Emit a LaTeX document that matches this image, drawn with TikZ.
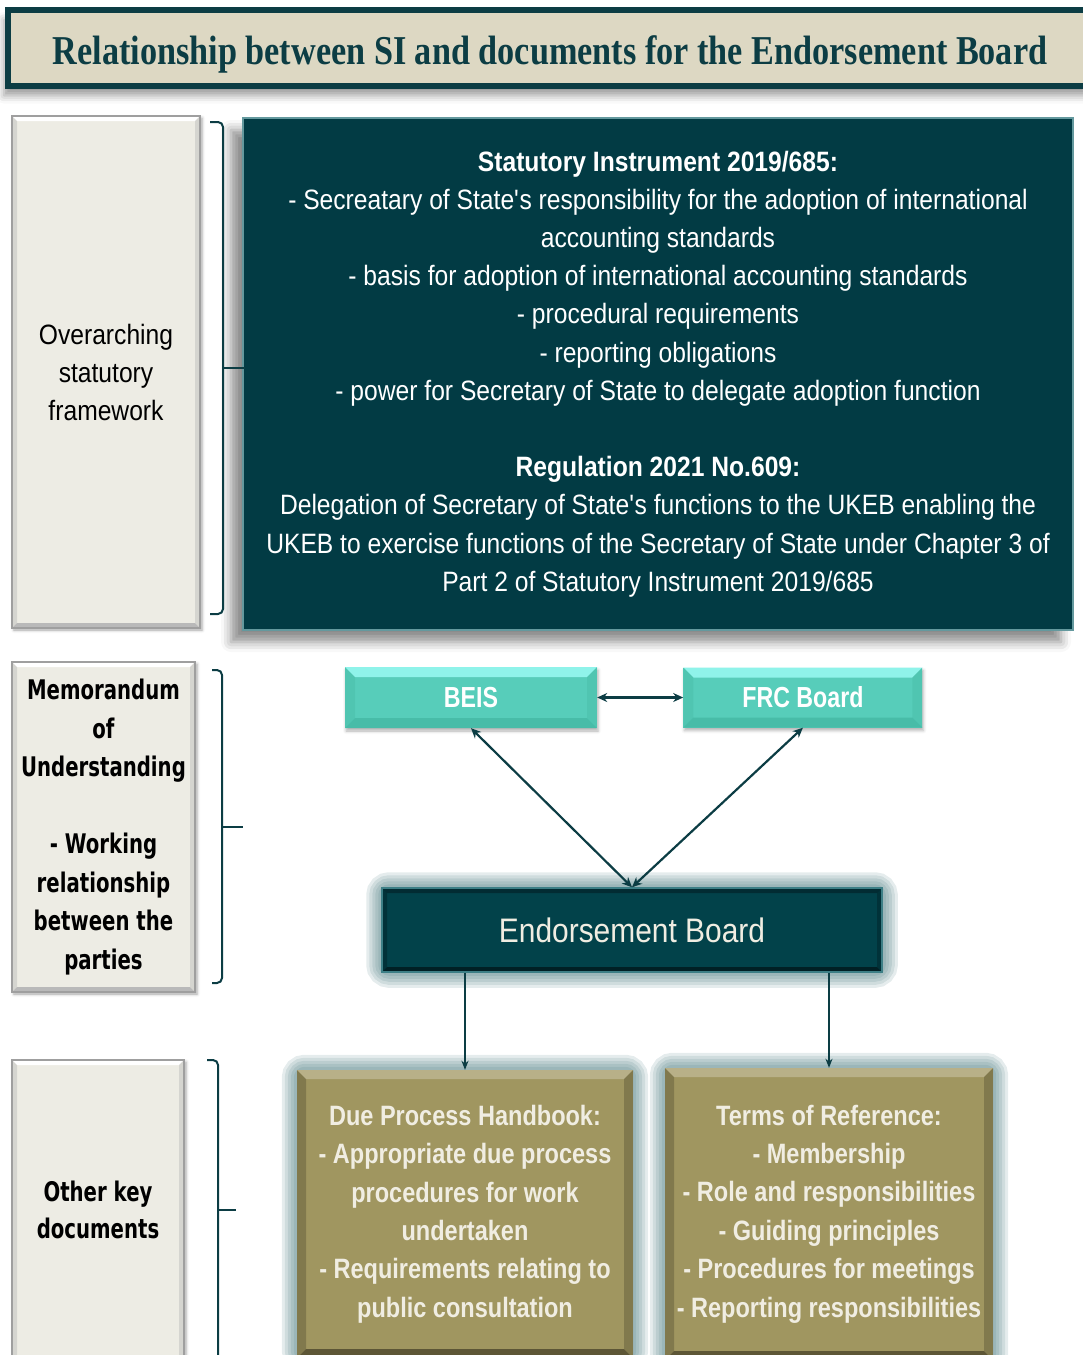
\documentclass[tikz,border=0pt]{standalone}
\usepackage{fontspec}
\setmainfont[FakeStretch=0.88]{Liberation Sans}
\newfontfamily\narrowfont[FakeStretch=0.8]{Liberation Sans}
\newfontfamily\docfont[FakeStretch=0.84]{Liberation Sans}
\newfontfamily\titlefont[FakeStretch=0.835]{Liberation Serif}
\newfontfamily\memofont[FakeStretch=0.73]{DejaVu Sans}
\usetikzlibrary{positioning,arrows.meta,backgrounds,shadows.blur}

\definecolor{darkteal}{HTML}{023B44}
\definecolor{frame}{HTML}{0C3D44}
\definecolor{titlebg}{HTML}{DDD8C3}
\definecolor{paper}{HTML}{EDECE4}
\definecolor{aqua}{HTML}{57CDBA}
\definecolor{aqualight}{HTML}{8FF3EA}
\definecolor{aquadark}{HTML}{48BCA8}
\definecolor{olive}{HTML}{A09660}
\definecolor{olivedark}{HTML}{5D5636}
\definecolor{cream}{HTML}{F0EDE2}
\definecolor{glow}{HTML}{3D7F86}
\definecolor{halocol}{HTML}{2C656B}

\tikzset{
    bevel/.style n args={3}{
        path picture={
            \fill[#1] (path picture bounding box.north west) -- (path picture bounding box.north east)
                -- ([xshift=-#3,yshift=-#3]path picture bounding box.north east)
                -- ([xshift=#3,yshift=-#3]path picture bounding box.north west) -- cycle;
            \fill[#2] (path picture bounding box.south west) -- (path picture bounding box.south east)
                -- ([xshift=-#3,yshift=#3]path picture bounding box.south east)
                -- ([xshift=#3,yshift=#3]path picture bounding box.south west) -- cycle;
            \fill[#2, opacity=0.45] (path picture bounding box.north west)
                -- ([xshift=#3,yshift=-#3]path picture bounding box.north west)
                -- ([xshift=#3,yshift=#3]path picture bounding box.south west)
                -- (path picture bounding box.south west) -- cycle;
            \fill[#2, opacity=0.45] (path picture bounding box.north east)
                -- ([xshift=-#3,yshift=-#3]path picture bounding box.north east)
                -- ([xshift=-#3,yshift=#3]path picture bounding box.south east)
                -- (path picture bounding box.south east) -- cycle;
            },
        },
    titlebar/.style = {
        draw = frame,
        line width = 6pt,
        fill = titlebg,
        text = frame,
        inner sep = 0pt,
        text height = 33pt,
        text depth = 0pt,
        font = \titlefont\bfseries\fontsize{41}{46}\selectfont,
        blur shadow = {shadow xshift=-4pt, shadow yshift=-10pt, shadow blur radius=8pt, shadow opacity=40},
        },
    sidebox/.style = {
        draw = gray!75,
        line width = 1.2pt,
        fill = paper,
        align = center,
        inner sep = 0pt,
        bevel = {white}{gray!55}{5pt},
        blur shadow = {shadow xshift=2pt, shadow yshift=-2pt, shadow blur radius=3pt, shadow opacity=35},
        },
    memo/.style = {
        font = \memofont\bfseries\fontsize{27}{38.5}\selectfont,
        },
    sibox/.style = {
        draw = glow!80,
        line width = 1.5pt,
        fill = darkteal,
        text = white,
        align = center,
        inner sep = 0pt,
        font = \fontsize{28}{38.2}\selectfont,
        blur shadow = {shadow xshift=-12pt, shadow yshift=-12pt, shadow blur radius=10pt, shadow opacity=45},
        },
    agency/.style = {
        fill = aqua,
        text = white,
        inner sep = 0pt,
        font = \narrowfont\bfseries\fontsize{29}{34}\selectfont,
        bevel = {aqualight}{aquadark}{10pt},
        blur shadow = {shadow xshift=1pt, shadow yshift=-3pt, shadow blur radius=3pt, shadow opacity=30},
        },
    board/.style = {
        draw = glow,
        line width = 1.5pt,
        fill = darkteal!90!teal,
        text = cream,
        inner sep = 0pt,
        font = \fontsize{34}{40}\selectfont,
        bevel = {black!25!darkteal}{black!45!darkteal}{5pt},
        },
    docbox/.style = {
        fill = olive,
        text = cream,
        align = center,
        inner sep = 0pt,
        font = \docfont\bfseries\fontsize{28}{38.4}\selectfont,
        bevel = {olive!75!white}{olivedark}{9pt},
        },
    halo/.style = {
        draw = halocol,
        opacity = 0.12,
        rounded corners = 8pt,
        },
    bracket/.style = {
        draw = frame,
        line width = 2pt,
        rounded corners = 5pt,
        },
    link/.style = {
        draw = frame,
        line width = 2.2pt,
        {Stealth[length=10pt,width=9pt]}-{Stealth[length=10pt,width=9pt]},
        },
    down/.style = {
        draw = frame,
        line width = 1.6pt,
        -{Stealth[length=9pt,width=7pt]},
        },
}

\begin{document}
\begin{tikzpicture}[x=1pt, y=-1pt]
    \useasboundingbox (0,0) rectangle (1083,1355);

    \node[titlebar, minimum width=1084, minimum height=75.5] (title) at (550,47.75)
        {Relationship between SI and documents for the Endorsement Board};

    % left column
    \node[sidebox, minimum width=188, minimum height=512, font=\fontsize{28}{38}\selectfont] (frame) at (106,372)
        {Overarching\\statutory\\framework};
    \node[sidebox, memo, minimum width=183, minimum height=330] (mou) at (103.5,827)
        {Memorandum\\of\\Understanding\\[38.5pt]- Working\\relationship\\between the\\parties};
    \node[sidebox, memo, minimum width=172, minimum height=300, font=\memofont\bfseries\fontsize{27}{37}\selectfont] (keydocs) at (98,1210)
        {Other key\\documents};

    % statutory instrument
    \node[sibox, minimum width=830, minimum height=512] (si) at (658,374)
        {\textbf{Statutory Instrument 2019/685:}\\
        - Secreatary of State\textquotesingle s responsibility for the adoption of international\\
        accounting standards\\
        - basis for adoption of international accounting standards\\
        - procedural requirements\\
        - reporting obligations\\
        - power for Secretary of State to delegate adoption function\\[38.2pt]
        \textbf{Regulation 2021 No.609:}\\
        Delegation of Secretary of State\textquotesingle s functions to the UKEB enabling the\\
        UKEB to exercise functions of the Secretary of State under Chapter 3 of\\
        Part 2 of Statutory Instrument 2019/685};

    % parties
    \node[agency, minimum width=252, minimum height=61] (beis) at (471,697.5) {BEIS};
    \node[agency, minimum width=239, minimum height=60, right=86 of beis] (frc) {FRC Board};
    \node[board, minimum width=500, minimum height=84] (eb) at (632,930) {Endorsement Board};

    % documents
    \node[docbox, minimum width=336, minimum height=288] (dph) at (465,1214)
        {Due Process Handbook:\\
        - Appropriate due process\\
        procedures for work\\
        undertaken\\
        - Requirements relating to\\
        public consultation};
    \node[docbox, minimum width=328, minimum height=292] (tor) at (829,1214)
        {Terms of Reference:\\
        - Membership\\
        - Role and responsibilities\\
        - Guiding principles\\
        - Procedures for meetings\\
        - Reporting responsibilities};

    \begin{scope}[on background layer]
        \foreach \b in {eb,dph,tor}
            \foreach \w in {30,24,18,12,6}
                \draw[halo, line width=\w pt] (\b.north west) rectangle (\b.south east);
    \end{scope}

    % brackets
    \draw[bracket] (210,122) -- (223,122) -- (223,614) -- (210,614);
    \draw[bracket] (223,368) -- (245,368);
    \draw[bracket] (212,670) -- (222,670) -- (222,983) -- (212,983);
    \draw[bracket] (222,827) -- (243,827);
    \draw[bracket] (207,1060) -- (218,1060) -- (218,1380);
    \draw[bracket] (218,1210) -- (236,1210);

    % connectors
    \draw[link] (beis) -- (frc);
    \draw[link] (beis.south) -- (eb.north);
    \draw[link] (frc.south) -- (eb.north);
    \draw[down] (eb.south -| dph.north) -- (dph.north);
    \draw[down] (eb.south -| tor.north) -- (tor.north);
\end{tikzpicture}
\end{document}
